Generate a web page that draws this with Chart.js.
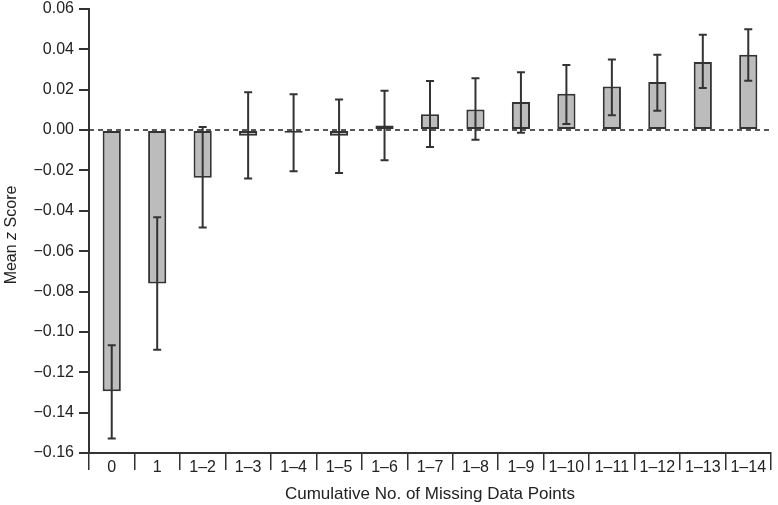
<!DOCTYPE html>
<html>
<head>
<meta charset="utf-8">
<script src="https://cdn.jsdelivr.net/npm/chart.js@4/dist/chart.umd.min.js"></script>
<style>
  html, body { margin: 0; padding: 0; background: #ffffff; }
  #wrap { width: 778px; height: 505px; position: relative; }
</style>
</head>
<body>
<div id="wrap"><canvas id="c" width="778" height="505"></canvas></div>
<script>
const categories = ['0', '1', '1–2', '1–3', '1–4', '1–5', '1–6', '1–7', '1–8', '1–9', '1–10', '1–11', '1–12', '1–13', '1–14'];
const meanZ = [-0.1294, -0.0760, -0.0236, -0.0028, -0.0013, -0.0028, 0.0023, 0.0079, 0.0102, 0.0139, 0.0180, 0.0216, 0.0238, 0.0337, 0.0373];
const errLow = [-0.1528, -0.1089, -0.0483, -0.0240, -0.0204, -0.0213, -0.0149, -0.0084, -0.0048, -0.0013, 0.0030, 0.0073, 0.0096, 0.0208, 0.0245];
const errHigh = [-0.1066, -0.0432, 0.0015, 0.0188, 0.0178, 0.0152, 0.0195, 0.0243, 0.0257, 0.0287, 0.0322, 0.0350, 0.0373, 0.0472, 0.0500];
const yTicks = [0.06, 0.04, 0.02, 0.00, -0.02, -0.04, -0.06, -0.08, -0.10, -0.12, -0.14, -0.16];
const yTitleParts = [['Mean ', false], ['z', true], [' Score', false]];
const xTitle = 'Cumulative No. of Missing Data Points';

const FONT = "'Liberation Sans', Arial, Helvetica, sans-serif";
const INK = '#333333';

const zeroLine = {
  id: 'zeroLine',
  beforeDatasetsDraw(chart) {
    const { ctx, chartArea, scales } = chart;
    const y = scales.y.getPixelForValue(0);
    ctx.save();
    ctx.strokeStyle = '#222';
    ctx.lineWidth = 1.5;
    ctx.setLineDash([5, 4]);
    ctx.beginPath();
    ctx.moveTo(chartArea.left, y);
    ctx.lineTo(chartArea.right, y);
    ctx.stroke();
    ctx.restore();
  }
};

const errorBars = {
  id: 'errorBars',
  afterDatasetsDraw(chart) {
    const { ctx, scales } = chart;
    const meta = chart.getDatasetMeta(0);
    ctx.save();
    ctx.strokeStyle = INK;
    ctx.lineWidth = 2;
    meta.data.forEach((bar, i) => {
      const x = bar.x;
      const yl = scales.y.getPixelForValue(errLow[i]);
      const yh = scales.y.getPixelForValue(errHigh[i]);
      const cap = 4;
      ctx.beginPath();
      ctx.moveTo(x, yl); ctx.lineTo(x, yh);
      ctx.moveTo(x - cap, yl); ctx.lineTo(x + cap, yl);
      ctx.moveTo(x - cap, yh); ctx.lineTo(x + cap, yh);
      ctx.stroke();
    });
    ctx.restore();
  }
};

const titles = {
  id: 'titles',
  afterDraw(chart) {
    const { ctx, chartArea } = chart;
    ctx.save();
    ctx.fillStyle = '#222';
    // x title
    ctx.font = '17px ' + FONT;
    ctx.textAlign = 'center';
    ctx.textBaseline = 'middle';
    ctx.fillText(xTitle, (chartArea.left + chartArea.right) / 2, 494);
    // y title with italic z
    ctx.translate(12, (chartArea.top + chartArea.bottom) / 2 + 4);
    ctx.rotate(-Math.PI / 2);
    let total = 0;
    const widths = yTitleParts.map(([t, it]) => {
      ctx.font = (it ? 'italic ' : '') + '16px ' + FONT;
      const w = ctx.measureText(t).width;
      total += w;
      return w;
    });
    let x = -total / 2;
    ctx.textAlign = 'left';
    yTitleParts.forEach(([t, it], i) => {
      ctx.font = (it ? 'italic ' : '') + '16px ' + FONT;
      ctx.fillText(t, x, 0);
      x += widths[i];
    });
    ctx.restore();
  }
};

new Chart(document.getElementById('c'), {
  type: 'bar',
  data: {
    labels: categories,
    datasets: [{
      data: meanZ,
      backgroundColor: '#bcbcbc',
      borderColor: INK,
      borderWidth: 2,
      borderSkipped: false,
      barPercentage: 0.4,
      categoryPercentage: 1.0
    }]
  },
  options: {
    responsive: false,
    animation: false,
    devicePixelRatio: 1,
    layout: { padding: { top: 9, right: 7, left: 0, bottom: 0 } },
    plugins: { legend: { display: false }, tooltip: { enabled: false }, title: { display: false } },
    scales: {
      x: {
        offset: true,
        grid: { offset: true, drawOnChartArea: false, drawTicks: true, tickLength: 17, color: INK, lineWidth: 1.5 },
        border: { display: true, color: INK, width: 2 },
        ticks: { color: '#222', font: { family: FONT, size: 16 }, padding: -12, maxRotation: 0, autoSkip: false },
        afterFit(scale) { scale.height = 52; scale.paddingLeft = 0; scale.paddingRight = 0; }
      },
      y: {
        min: -0.16,
        max: 0.06,
        afterBuildTicks(scale) { scale.ticks = yTicks.map(v => ({ value: v })); },
        grid: { drawOnChartArea: false, drawTicks: true, tickLength: 10, color: INK, lineWidth: 2 },
        border: { display: true, color: INK, width: 2 },
        ticks: {
          color: '#222',
          font: { family: FONT, size: 16 },
          padding: 5,
          callback(v) { const s = Math.abs(v).toFixed(2); return v < -1e-9 ? '−' + s : s; }
        },
        afterFit(scale) { scale.width = 89; scale.paddingTop = 0; scale.paddingBottom = 0; }
      }
    }
  },
  plugins: [zeroLine, errorBars, titles]
});
</script>
</body>
</html>
